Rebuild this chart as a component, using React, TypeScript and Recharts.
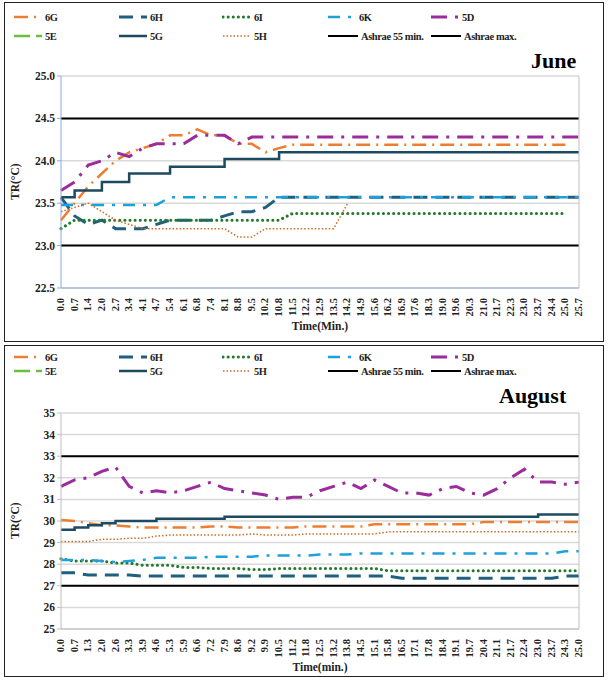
import React from "react";
import { LineChart, Line, XAxis, YAxis, CartesianGrid, ReferenceLine } from "recharts";

const juneTimes = ["0.0","0.7","1.4","2.0","2.7","3.4","4.1","4.7","5.4","6.1","6.8","7.4","8.1","8.8","9.5","10.2","10.8","11.5","12.2","12.9","13.5","14.2","14.9","15.6","16.2","16.9","17.6","18.3","19.0","19.6","20.3","21.0","21.7","22.3","23.0","23.7","24.4","25.0","25.7"];
const june6G = [23.3,23.5,23.7,23.85,24.0,24.1,24.15,24.2,24.3,24.3,24.37,24.3,24.3,24.2,24.2,24.1,24.15,24.19,24.19,24.19,24.19,24.19,24.19,24.19,24.19,24.19,24.19,24.19,24.19,24.19,24.19,24.19,24.19,24.19,24.19,24.19,24.19,24.19,null];
const june6H = [23.57,23.35,23.25,23.3,23.2,23.2,23.2,23.25,23.3,23.3,23.3,23.3,23.35,23.4,23.4,23.45,23.57,23.57,23.57,23.57,23.57,23.57,23.57,23.57,23.57,23.57,23.57,23.57,23.57,23.57,23.57,23.57,23.57,23.57,23.57,23.57,23.57,23.57,23.57];
const june6I = [23.2,23.3,23.3,23.3,23.3,23.3,23.3,23.3,23.3,23.3,23.3,23.3,23.3,23.3,23.3,23.3,23.3,23.38,23.38,23.38,23.38,23.38,23.38,23.38,23.38,23.38,23.38,23.38,23.38,23.38,23.38,23.38,23.38,23.38,23.38,23.38,23.38,23.38,null];
const june6K = [23.48,23.48,23.48,23.48,23.48,23.48,23.48,23.48,23.57,23.57,23.57,23.57,23.57,23.57,23.57,23.57,23.57,23.57,23.57,23.57,23.57,23.57,23.57,23.57,23.57,23.57,23.57,23.57,23.57,23.57,23.57,23.57,23.57,23.57,23.57,23.57,23.57,23.57,23.57];
const june5D = [23.65,23.75,23.95,24.0,24.1,24.05,24.15,24.2,24.2,24.2,24.3,24.3,24.3,24.2,24.28,24.28,24.28,24.28,24.28,24.28,24.28,24.28,24.28,24.28,24.28,24.28,24.28,24.28,24.28,24.28,24.28,24.28,24.28,24.28,24.28,24.28,24.28,24.28,24.28];
const june5G = [23.57,23.65,23.65,23.75,23.75,23.85,23.85,23.85,23.93,23.93,23.93,23.93,24.02,24.02,24.02,24.02,24.1,24.1,24.1,24.1,24.1,24.1,24.1,24.1,24.1,24.1,24.1,24.1,24.1,24.1,24.1,24.1,24.1,24.1,24.1,24.1,24.1,24.1,24.1];
const june5H = [23.4,23.45,23.5,23.4,23.3,23.25,23.2,23.2,23.2,23.2,23.2,23.2,23.2,23.1,23.1,23.2,23.2,23.2,23.2,23.2,23.2,23.49,null,null,null,null,null,null,null,null,null,null,null,null,null,null,null,null,null];

const augTimes = ["0.0","0.7","1.3","2.0","2.6","3.3","3.9","4.6","5.3","5.9","6.6","7.2","7.9","8.6","9.2","9.9","10.5","11.2","11.8","12.5","13.2","13.8","14.5","15.1","15.8","16.5","17.1","17.8","18.4","19.1","19.7","20.4","21.1","21.7","22.4","23.0","23.7","24.3","25.0"];
const aug6G = [30.05,30.0,29.9,29.8,29.8,29.75,29.7,29.7,29.7,29.7,29.7,29.75,29.75,29.7,29.7,29.7,29.7,29.7,29.75,29.75,29.75,29.75,29.75,29.85,29.85,29.85,29.85,29.85,29.85,29.85,29.85,29.95,29.95,29.95,29.95,29.95,29.95,29.95,29.95];
const aug6H = [27.6,27.6,27.5,27.5,27.5,27.5,27.45,27.45,27.45,27.45,27.45,27.45,27.45,27.45,27.45,27.45,27.45,27.45,27.45,27.45,27.45,27.45,27.45,27.45,27.45,27.35,27.35,27.35,27.35,27.35,27.35,27.35,27.35,27.35,27.35,27.35,27.35,27.45,27.45];
const aug6I = [28.25,28.15,28.15,28.15,28.05,28.05,27.95,27.95,27.95,27.85,27.85,27.8,27.8,27.8,27.75,27.75,27.8,27.8,27.8,27.8,27.8,27.8,27.8,27.8,27.7,27.7,27.7,27.7,27.7,27.7,27.7,27.7,27.7,27.7,27.7,27.7,27.7,27.7,27.7];
const aug6K = [28.2,28.2,28.2,28.15,28.1,28.15,28.2,28.3,28.3,28.3,28.3,28.35,28.35,28.35,28.35,28.4,28.4,28.4,28.4,28.45,28.45,28.45,28.5,28.5,28.5,28.5,28.5,28.5,28.5,28.5,28.5,28.5,28.5,28.5,28.5,28.5,28.5,28.6,28.6];
const aug5D = [31.6,31.9,32.0,32.3,32.5,31.6,31.3,31.4,31.3,31.4,31.6,31.8,31.5,31.4,31.3,31.2,31.0,31.1,31.1,31.4,31.6,31.8,31.5,31.9,31.6,31.3,31.3,31.2,31.5,31.6,31.3,31.2,31.5,32.0,32.4,31.8,31.8,31.7,31.8];
const aug5G = [29.6,29.7,29.8,29.9,30.0,30.0,30.0,30.1,30.1,30.1,30.1,30.1,30.2,30.2,30.2,30.2,30.2,30.2,30.2,30.2,30.2,30.2,30.2,30.2,30.2,30.2,30.2,30.2,30.2,30.2,30.2,30.2,30.2,30.2,30.2,30.3,30.3,30.3,30.3];
const aug5H = [29.05,29.05,29.05,29.15,29.15,29.2,29.2,29.3,29.35,29.35,29.35,29.35,29.35,29.35,29.4,29.35,29.35,29.35,29.4,29.4,29.4,29.4,29.4,29.4,29.5,29.5,29.5,29.5,29.5,29.5,29.5,29.5,29.5,29.5,29.5,29.5,29.5,29.5,29.5];

const juneAshrae = [23.0, 24.5];
const augAshrae = [27.0, 33.0];
const juneLeftTicks = [22.5,23.0,23.5,24.0,24.5,25.0];
const augLeftTicks = [25,26,27,28,29,30,31,32,33,34,35];
const rightTicks = [22,23,24,25,26,27];

const FONT = "'Liberation Serif', 'Times New Roman', 'DejaVu Serif', serif";

type S = { key: string; color: string; dash?: string; width: number; cap?: "round" | "butt"; };
const styles: S[] = [
  { key: "6G", color: "#ED7D31", dash: "14 6 2 6", width: 2.5 },
  { key: "6H", color: "#1F5F7F", dash: "14 8", width: 3 },
  { key: "6I", color: "#217A2A", dash: "0.1 5", width: 3, cap: "round" },
  { key: "6K", color: "#1EA0DA", dash: "12 8 3 8", width: 2.5 },
  { key: "5D", color: "#9B2C9B", dash: "16 8 3 8", width: 3 },
  { key: "5E", color: "#6ABF3E", dash: "16 6", width: 2.5 },
  { key: "5G", color: "#1C4A60", width: 2.5 },
  { key: "5H", color: "#D2691E", dash: "1.5 2", width: 1.5 },
];

function build(times: string[], series: Record<string, (number | null)[]>) {
  return times.map((t, i) => {
    const row: any = { t };
    Object.keys(series).forEach((k) => { row[k] = series[k][i]; });
    return row;
  });
}
const juneData = build(juneTimes, { "6G": june6G, "6H": june6H, "6I": june6I, "6K": june6K, "5D": june5D, "5G": june5G, "5H": june5H });
const augData = build(augTimes, { "6G": aug6G, "6H": aug6H, "6I": aug6I, "6K": aug6K, "5D": aug5D, "5G": aug5G, "5H": aug5H });

const XTick = (props: any) => {
  const { x, y, payload } = props;
  return (
    <text x={x + 3} y={y + 2} transform={`rotate(-90 ${x + 3} ${y + 2})`} textAnchor="end" fontFamily={FONT} fontWeight="bold" fontSize={10.5} fill="#222">
      {payload.value}
    </text>
  );
};

function LegendBlock({ top, gap }: { top: number; gap: number }) {
  const cols = [8, 113, 217, 322, 425];
  const items: { label: string; s?: S; black?: boolean }[] = [
    { label: "6G", s: styles[0] }, { label: "6H", s: styles[1] }, { label: "6I", s: styles[2] }, { label: "6K", s: styles[3] }, { label: "5D", s: styles[4] },
    { label: "5E", s: styles[5] }, { label: "5G", s: styles[6] }, { label: "5H", s: styles[7] }, { label: "Ashrae 55 min.", black: true }, { label: "Ashrae max.", black: true },
  ];
  return (
    <>
      {items.map((it, i) => {
        const row = Math.floor(i / 5);
        const col = i % 5;
        const x = cols[col];
        const y = top + row * gap;
        const len = it.black ? 32 : 30;
        return (
          <div key={i} style={{ position: "absolute", left: x, top: y - 7, height: 14, display: "flex", alignItems: "center", fontFamily: FONT, fontWeight: "bold", fontSize: 10.5, letterSpacing: -0.4, color: "#222", whiteSpace: "nowrap" }}>
            <svg width={len} height={6} style={{ marginRight: 2 }}>
              <line x1={1} y1={3} x2={len - 1} y2={3} stroke={it.black ? "#000" : it.s!.color} strokeWidth={it.black ? 2 : it.s!.width} strokeDasharray={it.black ? undefined : it.s!.dash} strokeLinecap={it.s?.cap || "butt"} />
            </svg>
            {it.label}
          </div>
        );
      })}
    </>
  );
}

function Panel({ data, leftTicks, leftDomain, ash, title, titleX, titleY, height, top, legendTop, legendGap, xLabel, fmt, leftAxisColor, mTop, mBottom }: any) {
  return (
    <div style={{ position: "absolute", left: 4, top, width: 600, height, border: "1.5px solid #222", boxSizing: "border-box" }}>
      <LegendBlock top={legendTop} gap={legendGap} />
      <div style={{ position: "absolute", left: titleX, top: titleY, fontFamily: FONT, fontWeight: "bold", fontSize: 22, color: "#000", lineHeight: "24px" }}>{title}</div>
      <div style={{ position: "absolute", left: -4, top: 0 }}>
        <LineChart width={608} height={height} data={data} margin={{ top: mTop, right: 0, left: 18, bottom: mBottom }}>
          <CartesianGrid vertical={false} stroke="#D9D9D9" strokeWidth={1.5} yAxisId="l" />
          <XAxis dataKey="t" interval={0} tick={<XTick />} tickLine={false} height={40} stroke={leftAxisColor}
            label={{ value: xLabel, position: "insideBottom", offset: -2, fontFamily: FONT, fontWeight: "bold", fontSize: 11.5, fill: "#222" }} />
          <YAxis yAxisId="l" domain={leftDomain} ticks={leftTicks} interval={0} width={42} tickFormatter={fmt} stroke={leftAxisColor} tickSize={4}
            tick={{ fontFamily: FONT, fontWeight: "bold", fontSize: 11.5, fill: "#222" }}
            label={{ value: "TR(°C)", angle: -90, position: "insideLeft", offset: -4, dy: 18, fontFamily: FONT, fontWeight: "bold", fontSize: 11.5, fill: "#222" }} />
          <YAxis yAxisId="r" orientation="right" domain={[22, 27]} ticks={rightTicks} interval={0} width={30} stroke="#BFBFBF" tickSize={4}
            tick={{ fontFamily: FONT, fontWeight: "bold", fontSize: 11.5, fill: "#222" }} />
          {ash.map((v: number, i: number) => (
            <ReferenceLine key={i} yAxisId="l" y={v} stroke="#000" strokeWidth={2} />
          ))}
          {styles.filter((s) => s.key !== "5E").map((s) => (
            <Line key={s.key} yAxisId="l" dataKey={s.key} type={s.key === "5G" ? "stepAfter" : "linear"} stroke={s.color} strokeWidth={s.width}
              strokeDasharray={s.dash} strokeLinecap={s.cap || "butt"} dot={false} isAnimationActive={false} connectNulls={false} />
          ))}
        </LineChart>
      </div>
    </div>
  );
}

export default function App() {
  return (
    <div style={{ position: "absolute", left: 0, top: 0, width: 608, height: 677, background: "#fff" }}>
      <Panel data={juneData} leftTicks={juneLeftTicks} leftDomain={[22.5, 25]} ash={juneAshrae} title="June" titleX={526} titleY={46}
        height={340} top={2} legendTop={14} legendGap={19} xLabel="Time(Min.)" fmt={(v: number) => v.toFixed(1)} leftAxisColor="#8EA9DB" mTop={73} mBottom={15} />
      <Panel data={augData} leftTicks={augLeftTicks} leftDomain={[25, 35]} ash={augAshrae} title="August" titleX={494} titleY={38}
        height={332} top={345} legendTop={11} legendGap={14} xLabel="Time(min.)" fmt={(v: number) => String(v)} leftAxisColor="#BFBFBF" mTop={67} mBottom={9} />
    </div>
  );
}
